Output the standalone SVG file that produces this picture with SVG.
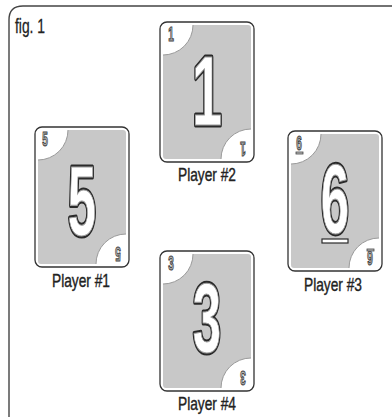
<svg xmlns="http://www.w3.org/2000/svg" xmlns:xlink="http://www.w3.org/1999/xlink" width="392" height="419" viewBox="0 0 392 419">
<style>
.frame{fill:none;stroke:#444;stroke-width:1.4}
.outline{fill:#fff;stroke:#333;stroke-width:1.3}
.grey{fill:#c8c8c8}
.arc{fill:none;stroke:#9a9a9a;stroke-width:1}
.big1{font-family:"Liberation Sans",Arial,sans-serif;font-weight:bold;font-size:98px;text-anchor:middle;fill:#fff;stroke:#2a2a2a;stroke-width:5;stroke-linejoin:round}
.big2{font-family:"Liberation Sans",Arial,sans-serif;font-weight:bold;font-size:98px;text-anchor:middle;fill:#fff;stroke:#a0a0a0;stroke-width:1}
.sm{font-family:"Liberation Sans",Arial,sans-serif;font-weight:bold;font-size:20px;text-anchor:middle;fill:#bdbdbd;stroke:#444;stroke-width:1.2}
.lbl{font-family:"Liberation Sans",Arial,sans-serif;font-size:19px;text-anchor:middle;fill:#222;stroke:#222;stroke-width:0.4}
.fig{font-family:"Liberation Sans",Arial,sans-serif;font-size:21px;fill:#222;stroke:#222;stroke-width:0.3}
</style>
<defs>
<g id="card">
<rect class="outline" x="0" y="0" width="94" height="140" rx="7"/>
<path class="grey" d="M33,3 H88 Q91,3 91,6 V107 A30 30 0 0 0 61,137 H6 Q3,137 3,134 V33 A30 30 0 0 0 33,3 Z"/>
<path class="arc" d="M91,107 A30 30 0 0 0 61,137 M3,33 A30 30 0 0 0 33,3"/>
</g>
</defs>
<path class="frame" d="M9,417 V20 Q9,6 23,6 H392"/>
<text class="fig" x="15" y="33" textLength="30" lengthAdjust="spacingAndGlyphs">fig. 1</text>

<g id="player1">
<use xlink:href="#card" x="35" y="127"/>
<g transform="translate(82,235) scale(0.52,1)"><text class="big1">5</text><text class="big2">5</text></g>
<g transform="translate(45,146) scale(0.5,1)"><text class="sm">5</text></g>
<g transform="rotate(180,118,254) translate(118,261) scale(0.5,1)"><text class="sm">5</text></g>
<text class="lbl" x="81" y="287" textLength="58" lengthAdjust="spacingAndGlyphs">Player #1</text>
</g>

<g id="player2">
<use xlink:href="#card" x="160" y="22"/>
<g transform="translate(207,125) scale(0.55,1)"><text class="big1">1</text><text class="big2">1</text></g>
<g transform="translate(171,41) scale(0.5,1)"><text class="sm">1</text></g>
<g transform="rotate(180,243,149) translate(243,156) scale(0.5,1)"><text class="sm">1</text></g>
<text class="lbl" x="207" y="181" textLength="58" lengthAdjust="spacingAndGlyphs">Player #2</text>
</g>

<g id="player3">
<use xlink:href="#card" x="288" y="131"/>
<g transform="translate(335,233) scale(0.52,1)"><text class="big1">6</text><text class="big2">6</text></g>
<rect x="322" y="239" width="26" height="4" fill="#fff" stroke="#2a2a2a" stroke-width="1.2"/>
<g transform="translate(299,150) scale(0.5,1)"><text class="sm">6</text></g>
<rect x="296" y="152" width="7" height="2" fill="#bdbdbd" stroke="#444" stroke-width="0.8"/>
<g transform="rotate(180,370,258) translate(370,265) scale(0.5,1)"><text class="sm">6</text></g>
<rect x="367" y="249" width="7" height="2" fill="#bdbdbd" stroke="#444" stroke-width="0.8"/>
<text class="lbl" x="333" y="291" textLength="58" lengthAdjust="spacingAndGlyphs">Player #3</text>
</g>

<g id="player4">
<use xlink:href="#card" x="160" y="251"/>
<g transform="translate(207,352) scale(0.52,1)"><text class="big1">3</text><text class="big2">3</text></g>
<g transform="translate(171,270) scale(0.5,1)"><text class="sm">3</text></g>
<g transform="rotate(180,243,378) translate(243,385) scale(0.5,1)"><text class="sm">3</text></g>
<text class="lbl" x="207" y="410" textLength="58" lengthAdjust="spacingAndGlyphs">Player #4</text>
</g>
</svg>
